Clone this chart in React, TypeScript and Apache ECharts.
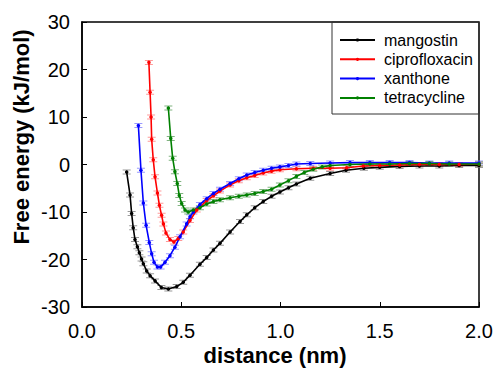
import React, { useEffect, useRef } from "react";
import * as echarts from "echarts";

const seriesNames = ["mangostin", "ciprofloxacin", "xanthone", "tetracycline"];
const lineColors = ["#000000", "#ff0000", "#0000ff", "#008000"];
const capColors = ["#808080", "#ff8080", "#8080ff", "#60a060"];

const mangostinX = [0.225, 0.242, 0.25, 0.258, 0.267, 0.279, 0.289, 0.3, 0.309, 0.326, 0.343, 0.368, 0.4, 0.435, 0.477, 0.51, 0.544, 0.594, 0.628, 0.662, 0.695, 0.746, 0.796, 0.83, 0.87, 0.913, 0.955, 0.997, 1.04, 1.08, 1.15, 1.25, 1.33, 1.42, 1.5, 1.6, 1.7, 1.8, 1.9, 2.0];
const mangostinY = [-1.6, -6.4, -10.3, -13.3, -15.8, -17.3, -18.6, -19.9, -20.9, -22.4, -23.4, -24.5, -25.9, -26.2, -25.7, -24.8, -23.3, -21.0, -19.6, -18.0, -16.6, -14.2, -12.0, -10.6, -9.1, -7.8, -6.7, -5.8, -4.9, -4.1, -2.9, -1.9, -1.2, -0.8, -0.6, -0.4, -0.3, -0.3, -0.2, -0.2];

const ciprofloxacinX = [0.337, 0.343, 0.348, 0.351, 0.359, 0.368, 0.38, 0.39, 0.401, 0.41, 0.423, 0.443, 0.463, 0.485, 0.51, 0.544, 0.578, 0.628, 0.662, 0.695, 0.746, 0.79, 0.83, 0.87, 0.913, 0.955, 0.997, 1.08, 1.165, 1.25, 1.333, 1.417, 1.5, 1.6, 1.7, 1.8, 1.9, 2.0];
const ciprofloxacinY = [21.5, 15.2, 10.0, 5.3, 1.0, -2.6, -6.0, -8.6, -10.7, -12.5, -14.4, -15.8, -16.3, -15.6, -14.2, -11.8, -9.6, -7.6, -6.6, -5.6, -4.3, -3.4, -2.8, -2.3, -1.8, -1.4, -1.1, -0.9, -0.8, -0.8, -0.7, -0.3, -0.2, -0.1, 0, 0, 0, 0.1];

const xanthoneX = [0.284, 0.297, 0.309, 0.323, 0.339, 0.351, 0.363, 0.38, 0.396, 0.418, 0.443, 0.468, 0.494, 0.527, 0.544, 0.561, 0.594, 0.628, 0.662, 0.695, 0.746, 0.79, 0.83, 0.87, 0.913, 0.955, 0.997, 1.04, 1.08, 1.15, 1.25, 1.35, 1.45, 1.55, 1.65, 1.75, 1.85, 2.0];
const xanthoneY = [8.2, -1.2, -8.1, -12.8, -16.4, -18.8, -20.6, -21.6, -21.6, -20.6, -19.2, -17.4, -15.2, -12.5, -11.0, -10.0, -8.4, -7.2, -6.1, -5.2, -4.0, -3.0, -2.2, -1.7, -1.2, -0.8, -0.5, -0.2, 0.1, 0.2, 0.3, 0.4, 0.4, 0.4, 0.4, 0.3, 0.3, 0.3];

const tetracyclineX = [0.435, 0.447, 0.457, 0.468, 0.48, 0.49, 0.502, 0.519, 0.535, 0.561, 0.594, 0.628, 0.662, 0.695, 0.746, 0.79, 0.83, 0.87, 0.913, 0.955, 0.997, 1.04, 1.08, 1.12, 1.165, 1.21, 1.25, 1.35, 1.45, 1.55, 1.65, 1.75, 1.85, 2.0];
const tetracyclineY = [11.9, 5.5, 1.3, -1.5, -4.0, -6.5, -8.2, -9.6, -10.0, -9.6, -9.1, -8.3, -7.8, -7.4, -7.0, -6.7, -6.4, -6.1, -5.7, -5.2, -4.3, -3.4, -2.5, -1.7, -1.0, -0.5, -0.2, 0, 0.1, 0.1, 0.2, 0.2, 0.1, 0.1];

const xValues = [mangostinX, ciprofloxacinX, xanthoneX, tetracyclineX];
const yValues = [mangostinY, ciprofloxacinY, xanthoneY, tetracyclineY];

const xTitle = "distance (nm)";
const yTitle = "Free energy (kJ/mol)";

const FONT = '"Liberation Sans", Arial, Helvetica, sans-serif';
const CAP = "path://M0,0H8V1H0ZM3.5,1H4.5V4H3.5ZM0,4H8V5H0Z";

export default function App() {
  const ref = useRef<HTMLDivElement>(null);

  useEffect(() => {
    if (!ref.current) return;
    const chart = echarts.init(ref.current, undefined, { renderer: "svg" });

    const series: any[] = [];
    seriesNames.forEach((name, i) => {
      const data = xValues[i].map((x, j) => [x, yValues[i][j]]);
      series.push({
        name: name + " error",
        type: "scatter",
        data,
        symbol: CAP,
        symbolSize: [8, 5],
        itemStyle: { color: capColors[i] },
        silent: true,
        z: 2,
      });
      series.push({
        name,
        type: "line",
        data,
        symbol: "circle",
        symbolSize: 3.5,
        showSymbol: true,
        lineStyle: { color: lineColors[i], width: 1.6 },
        itemStyle: { color: lineColors[i] },
        z: 3,
      });
    });

    chart.setOption({
      animation: false,
      backgroundColor: "#ffffff",
      grid: {
        left: 82,
        right: 17,
        top: 22,
        bottom: 61,
        show: true,
        borderColor: "#000",
        borderWidth: 1.5,
        backgroundColor: "transparent",
      },
      xAxis: {
        type: "value",
        min: 0,
        max: 2,
        interval: 0.5,
        axisLine: { show: true, onZero: false, lineStyle: { color: "#000", width: 1.5 } },
        axisTick: { show: true, inside: true, length: 5, lineStyle: { color: "#000" } },
        axisLabel: {
          fontSize: 20,
          fontFamily: FONT,
          color: "#000",
          margin: 14,
          formatter: (v: number) => v.toFixed(1),
        },
        splitLine: { show: false },
      },
      yAxis: {
        type: "value",
        min: -30,
        max: 30,
        interval: 10,
        axisLine: { show: true, onZero: false, lineStyle: { color: "#000", width: 1.5 } },
        axisTick: { show: true, inside: true, length: 5, lineStyle: { color: "#000" } },
        axisLabel: {
          fontSize: 20,
          fontFamily: FONT,
          color: "#000",
          margin: 12,
        },
        splitLine: { show: false },
      },
      legend: {
        data: seriesNames,
        orient: "vertical",
        left: 339,
        top: 32,
        padding: 0,
        itemGap: 3.3,
        itemWidth: 35,
        itemHeight: 4,
        textStyle: {
          fontSize: 16,
          fontFamily: FONT,
          color: "#000",
          lineHeight: 16,
          padding: [0, 0, 0, 4],
        },
      },
      graphic: [
        {
          type: "rect",
          shape: { x: 332, y: 22, width: 147, height: 92 },
          style: { fill: "transparent", stroke: "#333", lineWidth: 1 },
          silent: true,
          z: 10,
        },
        {
          type: "text",
          x: 275,
          y: 355,
          style: {
            text: xTitle,
            font: `bold 22px ${FONT}`,
            fill: "#000",
            textAlign: "center",
            textVerticalAlign: "middle",
            align: "center",
            verticalAlign: "middle",
          },
        },
        {
          type: "text",
          x: 21,
          y: 137,
          rotation: Math.PI / 2,
          style: {
            text: yTitle,
            font: `bold 22px ${FONT}`,
            fill: "#000",
            textAlign: "center",
            textVerticalAlign: "middle",
            align: "center",
            verticalAlign: "middle",
          },
        },
      ],
      series,
    });

    return () => chart.dispose();
  }, []);

  return (
    <div
      ref={ref}
      style={{ position: "fixed", left: 0, top: 0, width: 496, height: 368 }}
    />
  );
}
